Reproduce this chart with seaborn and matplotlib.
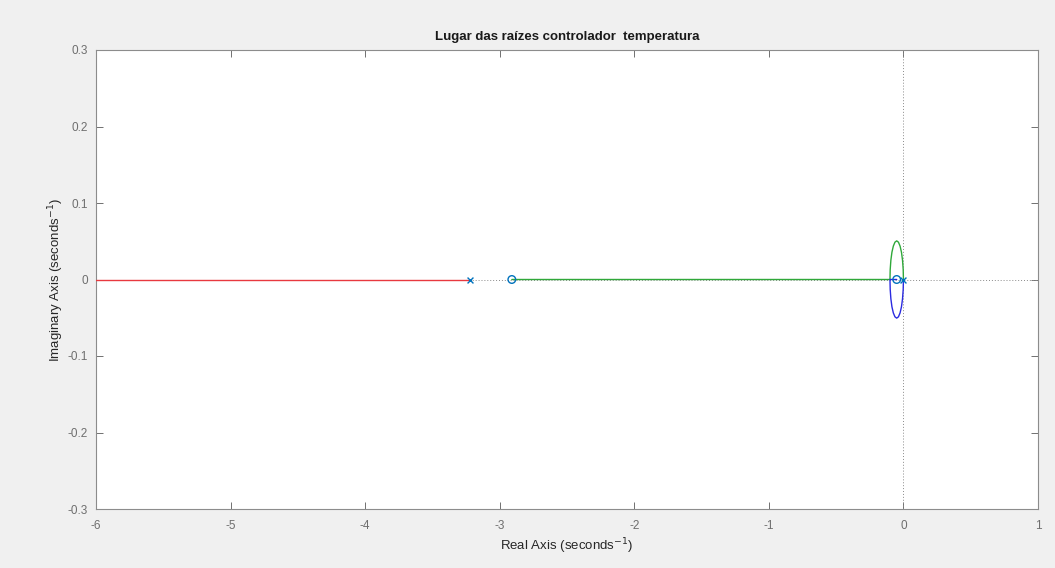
import matplotlib
matplotlib.use("Agg")
import matplotlib.pyplot as plt
import seaborn as sns
import pandas as pd

# ---- data ----
pole_re = [-3.22, 0.0]
pole_im = [0.0, 0.0]
zero_re = [-2.91, -0.05]
zero_im = [0.0, 0.0]

# branch 1 (red): from pole at -3.22 towards -inf
red_re = [-3.22, -6.0]
red_im = [0.0, 0.0]

# branch 2 (green): upper arc from origin, break-in at -0.1, then to zero at -2.91
green_re = [0.0, -0.0017, -0.0067, -0.0146, -0.025, -0.0371, -0.05, -0.0629,
            -0.075, -0.0854, -0.0933, -0.0983, -0.1, -2.91]
green_im = [0.0, 0.0130, 0.0252, 0.0357, 0.0437, 0.0488, 0.0505, 0.0488,
            0.0437, 0.0357, 0.0252, 0.0130, 0.0, 0.0]

# branch 3 (blue): lower arc from origin, break-in at -0.1, then to zero at -0.05
blue_re = [0.0, -0.0017, -0.0067, -0.0146, -0.025, -0.0371, -0.05, -0.0629,
           -0.075, -0.0854, -0.0933, -0.0983, -0.1, -0.05]
blue_im = [0.0, -0.0130, -0.0252, -0.0357, -0.0437, -0.0488, -0.0505, -0.0488,
           -0.0437, -0.0357, -0.0252, -0.0130, 0.0, 0.0]

x_ticks = [-6, -5, -4, -3, -2, -1, 0, 1]
y_ticks = [-0.3, -0.2, -0.1, 0, 0.1, 0.2, 0.3]
y_ticklabels = ["-0.3", "-0.2", "-0.1", "0", "0.1", "0.2", "0.3"]
x_ticklabels = ["-6", "-5", "-4", "-3", "-2", "-1", "0", "1"]

title = "Lugar das raízes controlador  temperatura"
xlabel = "Real Axis (seconds$^{\\mathrm{-1}}$)"
ylabel = "Imaginary Axis (seconds$^{\\mathrm{-1}}$)"

# ---- styling ----
sns.set_theme(style="white")
plt.rcParams["font.family"] = ["Liberation Sans", "DejaVu Sans"]
plt.rcParams["axes.unicode_minus"] = False
plt.rcParams["mathtext.default"] = "regular"

fig = plt.figure(figsize=(10.55, 5.68), dpi=100)
fig.patch.set_facecolor("#f0f0f0")
ax = fig.add_axes([96 / 1055, 1 - 509 / 568, (1038 - 96) / 1055, (509 - 50) / 568])
ax.set_facecolor("white")

# dotted axes lines through origin
ax.axhline(0, color="#8a8a8a", linestyle=(0, (1, 2)), linewidth=0.7, zorder=1)
ax.axvline(0, color="#8a8a8a", linestyle=(0, (1, 2)), linewidth=0.7, zorder=1)

branches = pd.concat([
    pd.DataFrame({"re": red_re, "im": red_im, "branch": "b1"}),
    pd.DataFrame({"re": green_re, "im": green_im, "branch": "b2"}),
    pd.DataFrame({"re": blue_re, "im": blue_im, "branch": "b3"}),
], ignore_index=True)

palette = {"b1": "#e8393f", "b2": "#2fa83a", "b3": "#2b2be0"}
sns.lineplot(data=branches, x="re", y="im", hue="branch", units="branch",
             estimator=None, sort=False, palette=palette, linewidth=1.0,
             legend=False, ax=ax, zorder=3)

mk_color = "#0072bd"
sns.scatterplot(x=pole_re, y=pole_im, marker="x", s=18, color=mk_color,
                linewidth=1.0, ax=ax, zorder=5)
sns.scatterplot(x=zero_re, y=zero_im, marker="o", s=30, facecolors="none",
                edgecolor=mk_color, linewidth=1.0, ax=ax, zorder=5)

ax.set_xlim(-6, 1)
ax.set_ylim(-0.3, 0.3)
ax.set_xticks(x_ticks)
ax.set_xticklabels(x_ticklabels)
ax.set_yticks(y_ticks)
ax.set_yticklabels(y_ticklabels)

ax.tick_params(axis="both", which="both", direction="in", length=5, width=0.7,
               color="#707070", labelcolor="#6e6e6e", labelsize=8.5,
               top=True, right=True, bottom=True, left=True)
ax.tick_params(axis="y", pad=6)
ax.tick_params(axis="x", pad=8)
for s in ax.spines.values():
    s.set_color("#8c8c8c")
    s.set_linewidth(0.8)

ax.set_title(title, fontsize=9.5, fontweight="bold", color="#1a1a1a", pad=7)
ax.set_xlabel(xlabel, fontsize=9.5, color="#262626", labelpad=3)
ax.set_ylabel(ylabel, fontsize=9.5, color="#262626", labelpad=1)

fig.savefig("out.png", dpi=100, facecolor=fig.get_facecolor())
